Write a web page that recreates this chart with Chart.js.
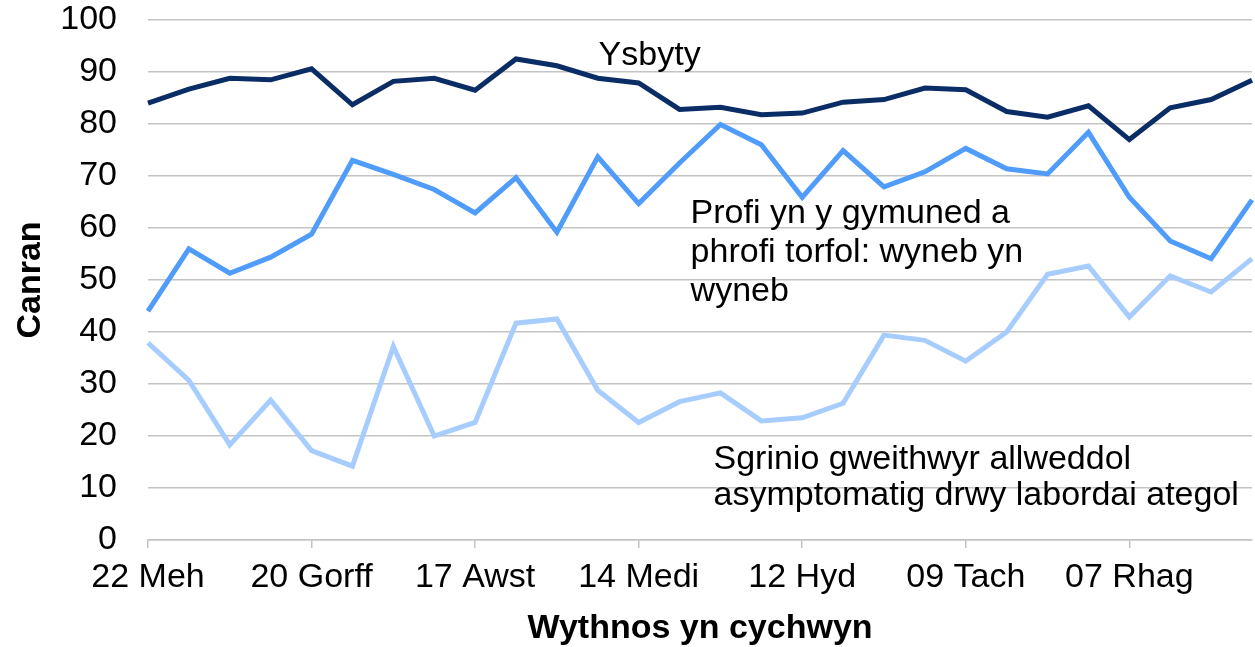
<!DOCTYPE html>
<html>
<head>
<meta charset="utf-8">
<script src="https://cdn.jsdelivr.net/npm/chart.js@4.4.0/dist/chart.umd.min.js"></script>
<style>
  html, body { margin: 0; padding: 0; background: #ffffff; }
  #wrap { width: 1255px; height: 647px; position: relative; }
</style>
</head>
<body>
<div id="wrap"><canvas id="myChart"></canvas></div>
<script>
// weeks starting (Welsh month abbreviations)
var weeks = ['22 Meh', '29 Meh', '06 Gorff', '13 Gorff', '20 Gorff', '27 Gorff', '03 Awst', '10 Awst',
    '17 Awst', '24 Awst', '31 Awst', '07 Medi', '14 Medi', '21 Medi', '28 Medi', '05 Hyd',
    '12 Hyd', '19 Hyd', '26 Hyd', '02 Tach', '09 Tach', '16 Tach', '23 Tach', '30 Tach',
    '07 Rhag', '14 Rhag', '21 Rhag', '28 Rhag'];

// only every 4th week is labelled on the axis
var shownWeeks = ['22 Meh', '20 Gorff', '17 Awst', '14 Medi', '12 Hyd', '09 Tach', '07 Rhag'];

var ysbyty = [84.0, 86.7, 88.8, 88.5, 90.6, 83.7, 88.2, 88.8, 86.5, 92.5, 91.2, 88.8, 87.9, 82.8,
    83.2, 81.8, 82.1, 84.2, 84.7, 86.9, 86.6, 82.4, 81.3, 83.5, 77.0, 83.1, 84.7, 88.4];

var profi = [44.0, 56.0, 51.3, 54.4, 58.8, 73.0, 70.3, 67.4, 62.9, 69.7, 59.2, 73.7, 64.7, 72.5,
    79.9, 76.0, 65.9, 74.9, 67.9, 70.8, 75.3, 71.4, 70.4, 78.4, 65.9, 57.5, 54.1, 65.4];

var sgrinio = [37.9, 30.7, 18.3, 26.9, 17.2, 14.2, 37.2, 20.0, 22.6, 41.7, 42.5, 28.8, 22.6, 26.6,
    28.3, 22.9, 23.5, 26.3, 39.4, 38.4, 34.4, 40.0, 51.1, 52.7, 42.9, 50.8, 47.7, 54.1];

var yTicks = [0, 10, 20, 30, 40, 50, 60, 70, 80, 90, 100];

// series names, written next to the lines
var seriesNames = [
    ['Ysbyty'],
    ['Profi yn y gymuned a', 'phrofi torfol: wyneb yn', 'wyneb'],
    ['Sgrinio gweithwyr allweddol', 'asymptomatig drwy labordai ategol']
];

var FONT = "'Liberation Sans', Arial, sans-serif";
var SIZE = 34;

// name labels anchored in data units (week index, percent)
var nameLabels = {
    id: 'nameLabels',
    afterDatasetsDraw: function (chart) {
        var ctx = chart.ctx;
        var x = chart.scales.x;
        var y = chart.scales.y;
        var spots = [
            { at: 11.02, val: 91.35, gap: 0 },
            { at: 13.27, val: 60.96, gap: 39 },
            { at: 13.83, val: 13.65, gap: 36 }
        ];
        ctx.save();
        ctx.font = SIZE + 'px ' + FONT;
        ctx.fillStyle = '#000000';
        ctx.textAlign = 'left';
        ctx.textBaseline = 'alphabetic';
        seriesNames.forEach(function (lines, i) {
            var px = x.getPixelForValue(spots[i].at);
            var py = y.getPixelForValue(spots[i].val);
            lines.forEach(function (line, j) {
                ctx.fillText(line, px, py + j * spots[i].gap);
            });
        });
        ctx.restore();
    }
};

var ctx = document.getElementById('myChart').getContext('2d');

var chart = new Chart(ctx, {
    type: 'line',
    data: {
        labels: weeks,
        datasets: [{
            label: 'Ysbyty',
            data: ysbyty,
            borderColor: '#0b2d66',
            borderWidth: 5
        }, {
            label: 'Profi',
            data: profi,
            borderColor: '#4f9cfb',
            borderWidth: 5
        }, {
            label: 'Sgrinio',
            data: sgrinio,
            borderColor: '#a7cdff',
            borderWidth: 5
        }]
    },
    options: {
        responsive: true,
        maintainAspectRatio: false,
        animation: false,
        layout: {
            padding: { top: 0, right: 3, bottom: 0, left: 0 }
        },
        elements: {
            point: { radius: 0 },
            line: { tension: 0, borderJoinStyle: 'miter', borderCapStyle: 'butt' }
        },
        plugins: {
            legend: { display: false },
            tooltip: { enabled: false }
        },
        scales: {
            x: {
                offset: false,
                afterFit: function (scale) {
                    scale.height = 107;
                },
                grid: {
                    drawOnChartArea: false,
                    drawTicks: true,
                    tickLength: 8,
                    color: '#c4c4c4',
                    lineWidth: 1.5
                },
                border: { display: true, color: '#c4c4c4', width: 1.5 },
                ticks: {
                    autoSkip: false,
                    maxRotation: 0,
                    color: '#000000',
                    padding: 9,
                    font: { family: FONT, size: SIZE },
                    callback: function (value, index) {
                        var lab = weeks[index];
                        return shownWeeks.indexOf(lab) >= 0 ? lab : null;
                    }
                },
                title: {
                    display: true,
                    text: 'Wythnos yn cychwyn',
                    color: '#000000',
                    font: { family: FONT, size: SIZE, weight: 'bold', lineHeight: 1.1 },
                    padding: { top: 0, bottom: 0 }
                }
            },
            y: {
                min: 0,
                max: 100,
                afterBuildTicks: function (axis) {
                    axis.ticks = yTicks.map(function (v) { return { value: v }; });
                },
                afterFit: function (scale) {
                    scale.width = 148;
                    scale.paddingTop = 20;
                    scale.paddingBottom = 0;
                },
                grid: {
                    color: '#c4c4c4',
                    lineWidth: 1.5,
                    drawTicks: false
                },
                border: { display: false },
                ticks: {
                    color: '#000000',
                    padding: 31,
                    font: { family: FONT, size: SIZE }
                },
                title: {
                    display: true,
                    text: 'Canran',
                    color: '#000000',
                    font: { family: FONT, size: SIZE, weight: 'bold' },
                    padding: { top: 10, bottom: 0 }
                }
            }
        }
    },
    plugins: [nameLabels]
});
</script>
</body>
</html>
